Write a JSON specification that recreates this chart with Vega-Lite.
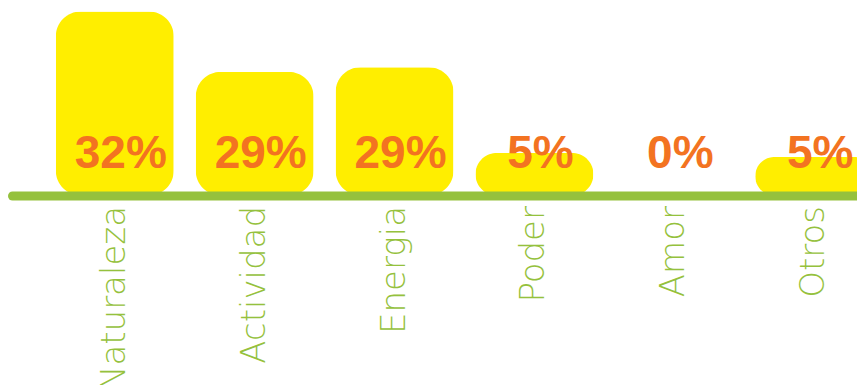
{
  "$schema": "https://vega.github.io/schema/vega-lite/v6.json",
  "width": 905,
  "height": 195.5,
  "padding": {"left": 12, "top": 0, "right": 0, "bottom": 0},
  "background": "#ffffff",
  "config": {"view": {"stroke": null}},
  "data": {
    "values": [
      {"categoria": "Naturaleza", "nivel": 32, "porcentaje": 0.32},
      {"categoria": "Actividad", "nivel": 21.5, "porcentaje": 0.29},
      {"categoria": "Energia", "nivel": 22.3, "porcentaje": 0.29},
      {"categoria": "Poder", "nivel": 7.4, "porcentaje": 0.05},
      {"categoria": "Amor", "nivel": 0, "porcentaje": 0},
      {"categoria": "Otros", "nivel": 6.7, "porcentaje": 0.05}
    ]
  },
  "encoding": {
    "x": {
      "field": "categoria",
      "type": "nominal",
      "sort": null,
      "scale": {"paddingInner": 0.1565, "paddingOuter": 0.313},
      "axis": {
        "title": null,
        "zindex": 1,
        "ticks": false,
        "tickSize": 0,
        "domainColor": "#95C13D",
        "domainWidth": 9,
        "domainCap": "round",
        "labelAngle": -90,
        "labelFont": "DejaVu Sans",
        "labelFontWeight": 200,
        "labelFontSize": 34,
        "labelLimit": 0,
        "labelColor": "#95C13D",
        "labelPadding": 10
      }
    }
  },
  "layer": [
    {
      "mark": {"type": "bar", "color": "#FFEE00", "cornerRadius": 25},
      "encoding": {
        "y": {
          "field": "nivel",
          "type": "quantitative",
          "scale": {"domain": [0, 34], "nice": false, "zero": true},
          "axis": null
        }
      }
    },
    {
      "mark": {
        "type": "text",
        "font": "Liberation Sans",
        "fontWeight": "bold",
        "fontSize": 46,
        "color": "#F37321",
        "baseline": "alphabetic",
        "align": "center",
        "dx": 6,
        "dy": -27.5
      },
      "encoding": {
        "y": {"datum": 0, "type": "quantitative"},
        "text": {"field": "porcentaje", "type": "quantitative", "format": ".0%"}
      }
    }
  ]
}
